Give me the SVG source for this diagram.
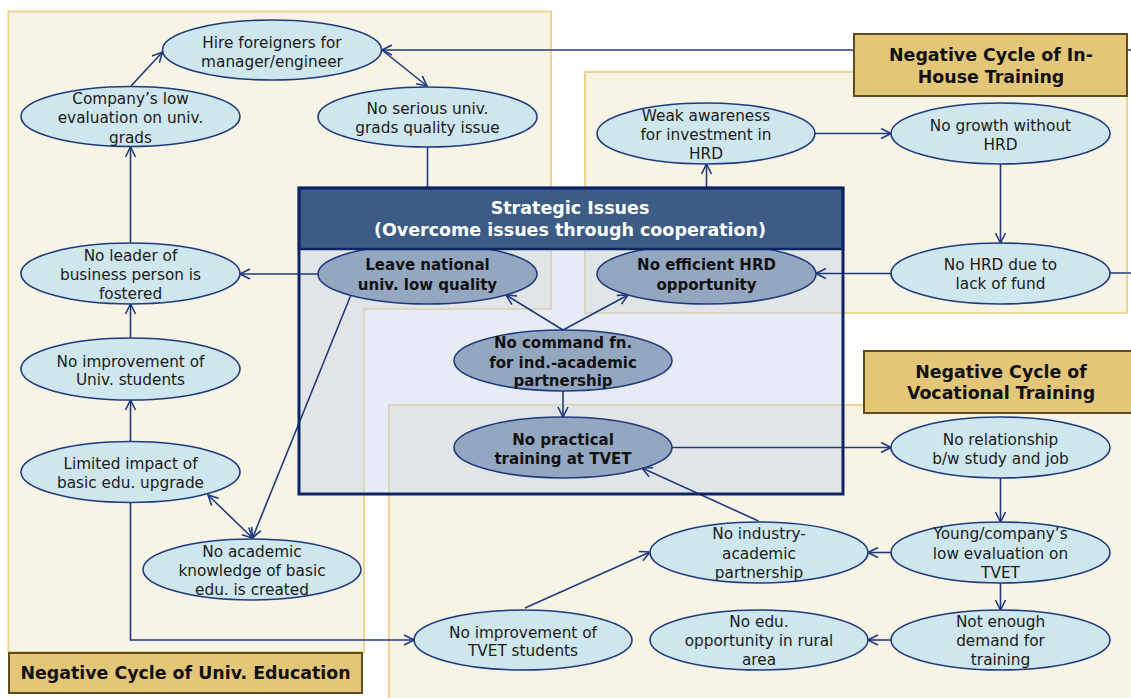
<svg xmlns="http://www.w3.org/2000/svg" width="1131" height="698" viewBox="0 0 1131 698">
<style>
.panel{fill:#f7f3e5;stroke:#ecd491;stroke-width:2}
.lbl{fill:#e3c677;stroke:#5e4c1c;stroke-width:2}
.lt{font-family:"DejaVu Sans",sans-serif;font-weight:bold;font-size:17.4px;fill:#111;text-anchor:middle}
.e{fill:#cee6ee;stroke:#1f3a80;stroke-width:1.6}
.d{fill:#94a7c1;stroke:#1f3a80;stroke-width:1.6}
.t{font-family:"DejaVu Sans",sans-serif;font-size:15.3px;fill:#1a1a1a;text-anchor:middle}
.b{font-family:"DejaVu Sans",sans-serif;font-size:15px;font-weight:bold;fill:#111;text-anchor:middle}
.c{fill:none;stroke:#1f3a80;stroke-width:1.6}
.h{font-family:"DejaVu Sans",sans-serif;font-size:17.5px;font-weight:bold;fill:#fff;text-anchor:middle}
</style>
<defs>
<marker id="a" viewBox="0 0 12 12" refX="11" refY="6" markerWidth="12" markerHeight="12" orient="auto-start-reverse" markerUnits="userSpaceOnUse">
<path d="M1,1 L11,6 L1,11" fill="none" stroke="#1f3a80" stroke-width="1.6"/>
</marker>
</defs>
<rect width="1131" height="698" fill="#fff"/>
<!-- panels -->
<g id="panel-univ"><path class="panel" d="M8.5,11.5 H551 V309 H364 V652 H8.5 Z"/></g>
<g id="panel-inhouse"><rect class="panel" x="585" y="72" width="542" height="241"/></g>
<g id="panel-voc"><rect class="panel" x="389" y="405" width="760" height="310"/></g>
<!-- strategic body -->
<g id="strategic-body"><rect x="299" y="188" width="544" height="306" fill="rgb(205,216,236)" fill-opacity="0.5"/></g>
<!-- connectors -->
<g id="connectors">
<path class="c" d="M131,86 L162.5,52" marker-end="url(#a)"/>
<path class="c" d="M382,50 L427,86" marker-end="url(#a)"/>
<path class="c" d="M1110,273 H1145 V50 H382" marker-end="url(#a)"/>
<path class="c" d="M427.5,147 V230"/>
<path class="c" d="M130.5,243 V147" marker-end="url(#a)"/>
<path class="c" d="M318,274 H240" marker-end="url(#a)"/>
<path class="c" d="M130.5,338 V304" marker-end="url(#a)"/>
<path class="c" d="M130.5,442 V400" marker-end="url(#a)"/>
<path class="c" d="M208,495 L252.5,538" marker-start="url(#a)" marker-end="url(#a)"/>
<path class="c" d="M350.5,296 L252.5,538" marker-end="url(#a)"/>
<path class="c" d="M130.5,502 V640 H414" marker-end="url(#a)"/>
<path class="c" d="M525,608 L650,552" marker-end="url(#a)"/>
<path class="c" d="M758.5,521 L642,468" marker-end="url(#a)"/>
<path class="c" d="M672,447.5 H891" marker-end="url(#a)"/>
<path class="c" d="M1000.5,478 V522" marker-end="url(#a)"/>
<path class="c" d="M891,552.5 H868" marker-end="url(#a)"/>
<path class="c" d="M1000.5,583 V610" marker-end="url(#a)"/>
<path class="c" d="M891,640 H868" marker-end="url(#a)"/>
<path class="c" d="M563,330 L506,295" marker-end="url(#a)"/>
<path class="c" d="M563,330 L628,295" marker-end="url(#a)"/>
<path class="c" d="M563,391 V417" marker-end="url(#a)"/>
<path class="c" d="M706.5,230 V164" marker-end="url(#a)"/>
<path class="c" d="M815,133.5 H891" marker-end="url(#a)"/>
<path class="c" d="M1000.5,164 V243" marker-end="url(#a)"/>
<path class="c" d="M891,273.5 H816" marker-end="url(#a)"/>
</g>
<!-- nodes -->
<g id="n-hire"><ellipse class="e" cx="272" cy="50" rx="109.5" ry="30"/><text class="t" x="272" y="48">Hire foreigners for</text><text class="t" x="272" y="67">manager/engineer</text></g>
<g id="n-company"><ellipse class="e" cx="130.5" cy="116.5" rx="109.5" ry="30"/><text class="t" x="130.5" y="104">Company’s low</text><text class="t" x="130.5" y="123">evaluation on univ.</text><text class="t" x="130.5" y="143">grads</text></g>
<g id="n-noserious"><ellipse class="e" cx="427.5" cy="117" rx="109.5" ry="30"/><text class="t" x="427.5" y="114">No serious univ.</text><text class="t" x="427.5" y="133">grads quality issue</text></g>
<g id="n-noleader"><ellipse class="e" cx="130.5" cy="273.5" rx="109.5" ry="30.5"/><text class="t" x="130.5" y="261">No leader of</text><text class="t" x="130.5" y="280">business person is</text><text class="t" x="130.5" y="299">fostered</text></g>
<g id="n-leave"><ellipse class="d" cx="427.5" cy="274" rx="109.5" ry="30"/><text class="b" x="427.5" y="270">Leave national</text><text class="b" x="427.5" y="290">univ. low quality</text></g>
<g id="n-noefficient"><ellipse class="d" cx="706.5" cy="274" rx="109.5" ry="30"/><text class="b" x="706.5" y="270">No efficient HRD</text><text class="b" x="706.5" y="290">opportunity</text></g>
<g id="n-nocommand"><ellipse class="d" cx="563" cy="360.5" rx="109" ry="30.5"/><text class="b" x="563" y="348">No command fn.</text><text class="b" x="563" y="368">for ind.-academic</text><text class="b" x="563" y="386">partnership</text></g>
<g id="n-nopractical"><ellipse class="d" cx="563" cy="447.5" rx="109" ry="30.5"/><text class="b" x="563" y="445">No practical</text><text class="b" x="563" y="464">training at TVET</text></g>
<g id="n-weak"><ellipse class="e" cx="706" cy="133.5" rx="109" ry="30.5"/><text class="t" x="706" y="121">Weak awareness</text><text class="t" x="706" y="140">for investment in</text><text class="t" x="706" y="159">HRD</text></g>
<g id="n-nogrowth"><ellipse class="e" cx="1000.5" cy="133.5" rx="109.5" ry="30.5"/><text class="t" x="1000.5" y="131">No growth without</text><text class="t" x="1000.5" y="150">HRD</text></g>
<g id="n-nohrd"><ellipse class="e" cx="1000.5" cy="273.5" rx="109.5" ry="30.5"/><text class="t" x="1000.5" y="270">No HRD due to</text><text class="t" x="1000.5" y="289">lack of fund</text></g>
<g id="n-noimpuniv"><ellipse class="e" cx="130.5" cy="369" rx="109.5" ry="31"/><text class="t" x="130.5" y="367">No improvement of</text><text class="t" x="130.5" y="385">Univ. students</text></g>
<g id="n-limited"><ellipse class="e" cx="130.5" cy="472" rx="109.5" ry="30.5"/><text class="t" x="130.5" y="469">Limited impact of</text><text class="t" x="130.5" y="488">basic edu. upgrade</text></g>
<g id="n-noacademic"><ellipse class="e" cx="252" cy="569.5" rx="109" ry="30.5"/><text class="t" x="252" y="557">No academic</text><text class="t" x="252" y="576">knowledge of basic</text><text class="t" x="252" y="595">edu. is created</text></g>
<g id="n-noimptvet"><ellipse class="e" cx="523" cy="640" rx="109" ry="30"/><text class="t" x="523" y="638">No improvement of</text><text class="t" x="523" y="656">TVET students</text></g>
<g id="n-norel"><ellipse class="e" cx="1000.5" cy="447.5" rx="109.5" ry="30.5"/><text class="t" x="1000.5" y="445">No relationship</text><text class="t" x="1000.5" y="464">b/w study and job</text></g>
<g id="n-young"><ellipse class="e" cx="1000.5" cy="552.5" rx="109.5" ry="30.5"/><text class="t" x="1000.5" y="539">Young/company’s</text><text class="t" x="1000.5" y="559">low evaluation on</text><text class="t" x="1000.5" y="578">TVET</text></g>
<g id="n-noindustry"><ellipse class="e" cx="759" cy="552.5" rx="109" ry="30.5"/><text class="t" x="759" y="539">No industry-</text><text class="t" x="759" y="559">academic</text><text class="t" x="759" y="578">partnership</text></g>
<g id="n-notenough"><ellipse class="e" cx="1000.5" cy="640" rx="109.5" ry="30"/><text class="t" x="1000.5" y="627">Not enough</text><text class="t" x="1000.5" y="646">demand for</text><text class="t" x="1000.5" y="665">training</text></g>
<g id="n-noedu"><ellipse class="e" cx="759" cy="640" rx="109" ry="30"/><text class="t" x="759" y="627">No edu.</text><text class="t" x="759" y="646">opportunity in rural</text><text class="t" x="759" y="665">area</text></g>
<!-- strategic header & frame -->
<g id="strategic-header">
<rect x="299" y="188" width="544" height="61" fill="#3d5c85" stroke="#0c2466" stroke-width="2.5"/>
<text class="h" x="570" y="214">Strategic Issues</text>
<text class="h" x="570" y="236">(Overcome issues through cooperation)</text>
<rect x="299" y="188" width="544" height="306" fill="none" stroke="#0c2466" stroke-width="3"/>
</g>
<!-- labels -->
<g id="label-univ"><rect class="lbl" x="9" y="653" width="353" height="40"/><text class="lt" x="185.5" y="679">Negative Cycle of Univ. Education</text></g>
<g id="label-inhouse"><rect class="lbl" x="854" y="34" width="273" height="62"/><text class="lt" x="991" y="61">Negative Cycle of In-</text><text class="lt" x="991" y="83">House Training</text></g>
<g id="label-voc"><rect class="lbl" x="864" y="351" width="275" height="62"/><text class="lt" x="1001" y="378">Negative Cycle of</text><text class="lt" x="1001" y="399">Vocational Training</text></g>
</svg>
